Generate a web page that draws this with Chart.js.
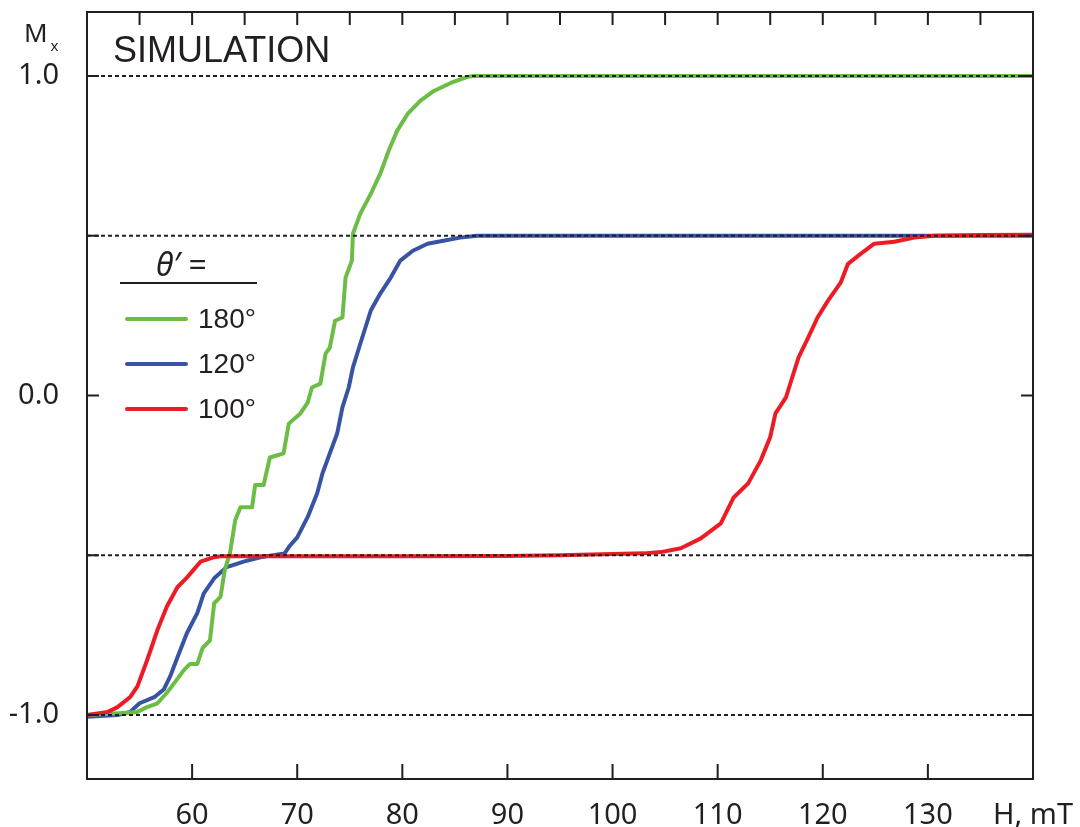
<!DOCTYPE html>
<html>
<head>
<meta charset="utf-8">
<script src="https://cdn.jsdelivr.net/npm/chart.js@4/dist/chart.umd.min.js"></script>
<style>
  body { margin: 0; background: #fff; }
  #wrap { position: relative; width: 1080px; height: 827px; }
  .txt { position: absolute; color: #231f20; white-space: nowrap; line-height: 1; }
  .sans { font-family: "Liberation Sans", Arial, sans-serif; }
  .myr { font-family: "Noto Sans", sans-serif; }
</style>
</head>
<body>
<div id="wrap">
  <canvas id="chart"></canvas>
  <div class="txt myr" style="left:24px;top:19px;font-size:26px;">M<span style="font-size:15px;position:relative;top:9px;left:3px;">x</span></div>
  <div class="txt sans" style="left:113px;top:32px;font-size:36px;">SIMULATION</div>
  <div id="legend"></div>
</div>
<script>
// field values (mT) and Mx for each angle theta'
const fieldGreen = [50, 53.1, 54.8, 55.7, 56.7, 57.6, 58.3, 59.2, 59.8, 60.5, 61.0, 61.7, 62.1, 62.7, 63.1, 63.6, 64.1, 64.6, 65.7, 66.0, 66.8, 67.4, 68.7, 69.2, 70.3, 71.0, 71.4, 72.2, 72.7, 73.1, 73.6, 74.3, 74.6, 75.2, 75.3, 76.0, 77.0, 77.9, 78.7, 79.5, 80.5, 81.7, 83.0, 84.6, 86.2, 86.8, 100, 140];
const mxGreen = [-1.0, -0.994, -0.99, -0.975, -0.963, -0.93, -0.9, -0.86, -0.84, -0.84, -0.79, -0.766, -0.65, -0.63, -0.547, -0.494, -0.39, -0.35, -0.35, -0.28, -0.28, -0.194, -0.181, -0.088, -0.056, -0.022, 0.025, 0.037, 0.131, 0.15, 0.234, 0.244, 0.369, 0.422, 0.506, 0.569, 0.631, 0.694, 0.766, 0.828, 0.881, 0.922, 0.953, 0.978, 0.997, 1.0, 1.0, 1.0];

const fieldBlue = [50, 52.9, 54.1, 55.0, 56.4, 57.3, 57.9, 58.6, 59.5, 60.5, 61.1, 62.1, 63.3, 64.9, 66.5, 68.8, 69.3, 70.0, 71.0, 71.9, 72.4, 73.1, 73.8, 74.3, 74.9, 75.3, 76.0, 77.0, 77.9, 78.9, 79.8, 81.0, 82.4, 83.9, 85.5, 87.1, 100, 140];
const mxBlue = [-1.005, -1.0, -0.99, -0.963, -0.944, -0.92, -0.88, -0.82, -0.744, -0.68, -0.62, -0.572, -0.537, -0.52, -0.506, -0.494, -0.47, -0.444, -0.38, -0.306, -0.244, -0.181, -0.119, -0.037, 0.025, 0.088, 0.162, 0.266, 0.319, 0.369, 0.422, 0.453, 0.475, 0.484, 0.494, 0.5, 0.5, 0.5];

const fieldRed = [50, 51, 52, 52.9, 54.1, 54.8, 55.7, 56.7, 57.6, 58.6, 59.5, 60.8, 62.1, 62.7, 70, 80, 90, 95, 100, 103, 104.6, 106.5, 108.4, 110.3, 111.5, 112.9, 114.1, 115.0, 115.5, 116.5, 117.0, 117.7, 118.6, 119.5, 120.5, 121.7, 122.4, 123.6, 124.9, 126.8, 128.7, 130.6, 135, 140];
const mxRed = [-1.0, -0.995, -0.99, -0.975, -0.944, -0.91, -0.83, -0.734, -0.66, -0.6, -0.57, -0.52, -0.506, -0.503, -0.503, -0.503, -0.502, -0.5, -0.496, -0.494, -0.49, -0.478, -0.447, -0.4, -0.32, -0.275, -0.203, -0.13, -0.056, -0.006, 0.047, 0.119, 0.18, 0.244, 0.297, 0.353, 0.412, 0.443, 0.475, 0.481, 0.494, 0.5, 0.502, 0.503];

const seriesLabels = ['180°', '120°', '100°'];
const seriesColors = ['#6cbd45', '#3953a4', '#ed1c24'];

const yLabelValues = [-1, 0, 1];
const dashedLevels = [-1, -0.5, 0.5, 1];
const sideTickLevels = [-1, -0.5, 0, 0.5, 1];
const topTickFields = [55, 60, 65, 70, 75, 80, 85, 90, 95, 100, 105, 110, 115, 120, 125, 130, 135];
const bottomTickFields = [60, 70, 80, 90, 100, 110, 120, 130];

const toPoints = (xs, ys) => xs.map((x, i) => ({ x: x, y: ys[i] }));

// legend built from the series
const legend = document.getElementById('legend');
legend.innerHTML =
  '<div class="txt myr" style="left:156px;top:248px;font-size:32px;"><i>θ′</i> =</div>' +
  '<div style="position:absolute;left:120px;top:282px;width:137px;height:2px;background:#231f20;"></div>' +
  seriesLabels.map((lab, i) =>
    '<div style="position:absolute;left:125px;top:' + (317 + i * 45) + 'px;width:63px;height:4px;border-radius:2px;background:' + seriesColors[i] + ';"></div>' +
    '<div class="txt sans" style="left:198px;top:' + (305 + i * 45) + 'px;font-size:28px;">' + lab + '</div>'
  ).join('');

const ink = '#231f20';

const framePlugin = {
  id: 'frame',
  afterDatasetsDraw(chart) {
    const ctx = chart.ctx;
    const a = chart.chartArea;
    const xs = chart.scales.x;
    const ys = chart.scales.y;
    ctx.save();
    ctx.strokeStyle = ink;
    // dashed reference levels, over the curves
    ctx.lineWidth = 2;
    ctx.setLineDash([4, 3]);
    dashedLevels.forEach(v => {
      const y = ys.getPixelForValue(v);
      ctx.beginPath();
      ctx.moveTo(a.left, y);
      ctx.lineTo(a.right, y);
      ctx.stroke();
    });
    ctx.setLineDash([]);
    // frame
    ctx.lineWidth = 2;
    ctx.strokeRect(a.left, a.top, a.right - a.left, a.bottom - a.top);
    // inward ticks
    ctx.beginPath();
    bottomTickFields.forEach(v => {
      const x = xs.getPixelForValue(v);
      ctx.moveTo(x, a.bottom);
      ctx.lineTo(x, a.bottom - 15);
    });
    topTickFields.forEach(v => {
      const x = xs.getPixelForValue(v);
      ctx.moveTo(x, a.top);
      ctx.lineTo(x, a.top + 13);
    });
    sideTickLevels.forEach(v => {
      const y = ys.getPixelForValue(v);
      ctx.moveTo(a.left, y);
      ctx.lineTo(a.left + 12, y);
      ctx.moveTo(a.right, y);
      ctx.lineTo(a.right - 12, y);
    });
    ctx.stroke();
    ctx.restore();
  }
};

new Chart(document.getElementById('chart'), {
  type: 'line',
  data: {
    datasets: [
      { label: seriesLabels[0], data: toPoints(fieldGreen, mxGreen), borderColor: seriesColors[0], order: 1 },
      { label: seriesLabels[1], data: toPoints(fieldBlue, mxBlue), borderColor: seriesColors[1], order: 2 },
      { label: seriesLabels[2], data: toPoints(fieldRed, mxRed), borderColor: seriesColors[2], order: 0 },
    ],
  },
  options: {
    responsive: true,
    maintainAspectRatio: false,
    animation: false,
    layout: { padding: { top: 12, right: 47, left: 0, bottom: 0 } },
    elements: {
      point: { radius: 0 },
      line: { borderWidth: 4, tension: 0, borderJoinStyle: 'round', borderCapStyle: 'round' },
    },
    plugins: { legend: { display: false }, tooltip: { enabled: false } },
    scales: {
      x: {
        type: 'linear',
        min: 50,
        max: 140,
        grid: { display: false },
        border: { display: false },
        afterFit: s => { s.height = 48; s.paddingLeft = 0; s.paddingRight = 0; },
        ticks: {
          stepSize: 10,
          autoSkip: false,
          maxRotation: 0,
          padding: 11,
          color: ink,
          font: { family: 'Noto Sans', size: 29 },
          callback: v => (v === 140 ? 'H, mT' : v === 50 ? '' : String(v)),
        },
      },
      y: {
        min: -1.2,
        max: 1.2,
        grid: { display: false },
        border: { display: false },
        afterFit: s => { s.width = 87; s.paddingTop = 0; s.paddingBottom = 0; },
        ticks: {
          stepSize: 0.5,
          autoSkip: false,
          padding: 20,
          color: ink,
          font: { family: 'Noto Sans', size: 29 },
          callback: v => (yLabelValues.includes(v) ? v.toFixed(1) : ''),
        },
      },
    },
  },
  plugins: [framePlugin],
});
</script>
</body>
</html>
